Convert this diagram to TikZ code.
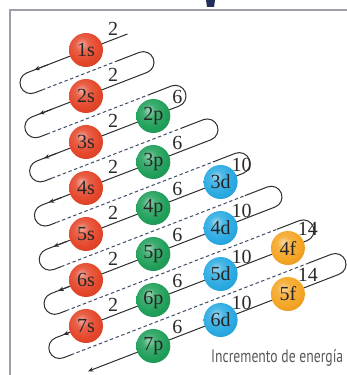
\documentclass[tikz,border=0pt]{standalone}
\usepackage{fontspec}
\usepackage{graphicx}
\setmainfont{Liberation Serif}
\newfontfamily\capfont{PT Sans}
\usetikzlibrary{arrows.meta}
\definecolor{sC}{HTML}{E5462A}
\definecolor{pC}{HTML}{20A05A}
\definecolor{dC}{HTML}{2AAAE2}
\definecolor{fC}{HTML}{F5A524}
\definecolor{lineC}{HTML}{2E2E2E}
\definecolor{dashC}{HTML}{3E4C66}
\definecolor{frameC}{HTML}{A09EAA}
\definecolor{txtC}{HTML}{2A2A2A}
\definecolor{navyC}{HTML}{1E2F5A}
\colorlet{orbc}{red}
\pgfdeclareradialshading[orbc]{orbball}{\pgfpoint{-7bp}{9bp}}{%
  color(0bp)=(orbc!45!white); color(10bp)=(orbc!85!white); color(24bp)=(orbc);
  color(40bp)=(orbc!88!black); color(52bp)=(orbc!72!black); color(70bp)=(orbc!65!black)}
\begin{document}
\begin{tikzpicture}[x=1pt,y=1pt,
  solidl/.style={draw=lineC, line width=1pt},
  dashl/.style={draw=dashC, line width=1pt, dash pattern=on 3.4pt off 2.6pt},
  tipl/.style={draw=lineC, line width=1pt, -{Stealth[length=5.5pt,width=4.5pt]}},
  ocol/.code={\colorlet{orbc}{#1}},
  orb/.style={circle, inner sep=0pt, minimum size=34pt, shading=orbball, ocol=#1,
    font=\fontsize{20}{20}\selectfont, text=black!85},
  num/.style={font=\fontsize{20}{20}\selectfont, text=txtC, inner sep=0pt},
]
\useasboundingbox (0,0) rectangle (347,375);
\fill[white] (0,0) rectangle (347,375);
\draw[frameC, line width=1.6pt] (10,0) -- (10,365) -- (347,365);
\fill[navyC] (206,375) -- (215,375) -- (214,368) -- (207,368) -- cycle;

% spiral path
\begin{scope}[shift={(86,325)}, rotate=21.12]
\foreach \k in {1,...,7}{
  \pgfmathsetmacro{\vk}{-42.92*(\k-1)}
  \pgfmathsetmacro{\vh}{\vk-21.46}
  \pgfmathsetmacro{\uL}{-63.40-11.43*(\k-1)}
  \pgfmathsetmacro{\uR}{48.96+17.73*(\k-1)}
  \pgfmathsetmacro{\uP}{ifthenelse(\k==1,44.4,48.96+17.73*(\k-2))}
  \draw[solidl] (\uP,\vk) -- (\uL,\vk) arc[start angle=90,end angle=270,radius=10.73] -- ++(8,0);
  \draw[tipl] (\uL+22,\vk) -- (\uL+8,\vk);
  \draw[dashl] (\uL+8,\vh) -- (\uR-24,\vh);
  \draw[solidl] (\uR-24,\vh) -- (\uR,\vh) arc[start angle=90,end angle=-90,radius=10.73];
}
\draw[tipl] (155.34,-300.44) -- (-114,-300.44);
\end{scope}

% orbitals
\foreach \nm/\k in {1s/1,2s/2,3s/3,4s/4,5s/5,6s/6,7s/7}{
  \pgfmathsetmacro{\ox}{86}
  \pgfmathsetmacro{\oy}{325-46*(\k-1)}
  \node[orb=sC] (o\nm) at (\ox,\oy) {\nm};
  \node[num] (n\nm) at (\ox+27,\oy+21) {2};
}
\foreach \nm/\k in {2p/3,3p/4,4p/5,5p/6,6p/7,7p/8}{
  \pgfmathsetmacro{\ox}{86+67.3}
  \pgfmathsetmacro{\oy}{325-46*(\k-1)+26}
  \node[orb=pC] (o\nm) at (\ox,\oy) {\nm};
  \node[num] (n\nm) at (\ox+24,\oy+19) {6};
}
\foreach \nm/\k in {3d/5,4d/6,5d/7,6d/8}{
  \pgfmathsetmacro{\ox}{86+2*67.3}
  \pgfmathsetmacro{\oy}{325-46*(\k-1)+52}
  \node[orb=dC] (o\nm) at (\ox,\oy) {\nm};
  \node[num] (n\nm) at (\ox+21,\oy+17) {10};
}
\foreach \nm/\k in {4f/7,5f/8}{
  \pgfmathsetmacro{\ox}{86+3*67.3}
  \pgfmathsetmacro{\oy}{325-46*(\k-1)+78}
  \node[orb=fC] (o\nm) at (\ox,\oy) {\nm};
  \node[num] (n\nm) at (\ox+20,\oy+19) {14};
}

\node[anchor=west, inner sep=0pt, text=black!65, font=\capfont\fontsize{18}{18}\selectfont]
  (inc) at (211,17) {\scalebox{0.76}[1]{Incremento de energía}};
\end{tikzpicture}
\end{document}
